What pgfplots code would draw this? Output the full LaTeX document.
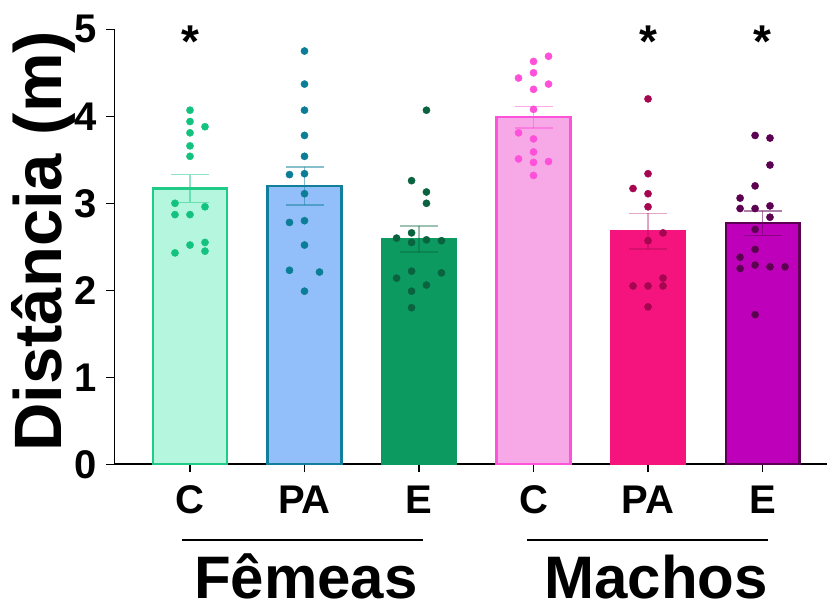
\documentclass[border=0pt]{standalone}
\usepackage{fontspec}
\setmainfont{Liberation Sans}
\usepackage{pgfplots}
\pgfplotsset{compat=1.18}
\definecolor{cfFill}{HTML}{B4F6DE}\definecolor{cfDraw}{HTML}{1FCB87}\definecolor{cfPt}{HTML}{13C27E}
\definecolor{pafFill}{HTML}{92BFF9}\definecolor{pafDraw}{HTML}{117F9B}\definecolor{pafPt}{HTML}{0B7D96}
\definecolor{efFill}{HTML}{0C9A61}\definecolor{efPt}{HTML}{09633F}
\definecolor{cmFill}{HTML}{F6A9E6}\definecolor{cmDraw}{HTML}{FF52DA}\definecolor{cmPt}{HTML}{FF50D9}
\definecolor{pamFill}{HTML}{F5147E}\definecolor{pamPt}{HTML}{A5064F}
\definecolor{emFill}{HTML}{BF00BA}\definecolor{emDraw}{HTML}{5B0052}\definecolor{emPt}{HTML}{5C0051}
\newcommand\tickfont{\fontsize{40}{40}\selectfont\bfseries}
\begin{document}
\begin{tikzpicture}
\useasboundingbox (-114.3pt,-139.7pt) rectangle (714.7pt,464.3pt);
\begin{axis}[
  at={(0pt,0pt)}, anchor=south west,
  scale only axis, width=712.7pt, height=435pt,
  xmin=-0.661, xmax=5.563, ymin=0, ymax=5,
  axis x line=bottom, axis y line=left,
  x axis line style={-, line width=2.2pt},
  y axis line style={-, line width=1.4pt},
  xtick={0,1,2,3,4,5}, xticklabels={C,PA,E,C,PA,E},
  ytick={0,1,2,3,4,5},
  tick align=outside, major tick length=8pt,
  tick style={black, line width=1.5pt},
  /pgf/number format/assume math mode=true,
  xticklabel style={font=\tickfont, anchor=base, inner sep=0pt, yshift=-40.7pt},
  yticklabel style={font=\tickfont, anchor=east, inner sep=0pt, xshift=-9.8pt},
  ylabel={Distância (m)},
  every axis y label/.style={at={(axis description cs:-0.0734,0.5126)}, rotate=90, anchor=base, inner sep=0pt, font=\fontsize{67}{67}\selectfont\bfseries},
  clip=false,
]
% bars with SEM
\addplot[ybar, bar width=0.645, bar shift=0pt, fill=cfFill, draw=cfDraw, line width=2.2pt,
  error bars/.cd, y dir=both, y explicit,
  error bar style={line width=1.5pt, draw=cfDraw, opacity=0.5},
  error mark options={rotate=90, mark size=19pt, line width=1.5pt, draw=cfDraw, opacity=0.5}]
  coordinates {(0,3.17) +- (0,0.16)};
\addplot[ybar, bar width=0.645, bar shift=0pt, fill=pafFill, draw=pafDraw, line width=2.2pt,
  error bars/.cd, y dir=both, y explicit,
  error bar style={line width=1.5pt, draw=pafDraw, opacity=0.5},
  error mark options={rotate=90, mark size=19pt, line width=1.5pt, draw=pafDraw, opacity=0.5}]
  coordinates {(1,3.20) +- (0,0.22)};
\addplot[ybar, bar width=0.645, bar shift=0pt, fill=efFill, draw=efFill, line width=2.2pt,
  error bars/.cd, y dir=both, y explicit,
  error bar style={line width=1.5pt, draw=efPt, opacity=0.4},
  error mark options={rotate=90, mark size=19pt, line width=1.5pt, draw=efPt, opacity=0.4}]
  coordinates {(2,2.59) +- (0,0.15)};
\addplot[ybar, bar width=0.645, bar shift=0pt, fill=cmFill, draw=cmDraw, line width=2.2pt,
  error bars/.cd, y dir=both, y explicit,
  error bar style={line width=1.5pt, draw=cmDraw, opacity=0.5},
  error mark options={rotate=90, mark size=19pt, line width=1.5pt, draw=cmDraw, opacity=0.5}]
  coordinates {(3,3.99) +- (0,0.125)};
\addplot[ybar, bar width=0.645, bar shift=0pt, fill=pamFill, draw=pamFill, line width=2.2pt,
  error bars/.cd, y dir=both, y explicit,
  error bar style={line width=1.5pt, draw=pamPt, opacity=0.35},
  error mark options={rotate=90, mark size=19pt, line width=1.5pt, draw=pamPt, opacity=0.35}]
  coordinates {(4,2.68) +- (0,0.205)};
\addplot[ybar, bar width=0.645, bar shift=0pt, fill=emFill, draw=emDraw, line width=2.2pt,
  error bars/.cd, y dir=both, y explicit,
  error bar style={line width=1.5pt, draw=emDraw, opacity=0.5},
  error mark options={rotate=90, mark size=19pt, line width=1.5pt, draw=emDraw, opacity=0.5}]
  coordinates {(5,2.77) +- (0,0.14)};
% individual points
\addplot[only marks, mark=*, mark size=3.6pt, color=cfPt] coordinates {
 (0,4.07)(0,3.94)(0.131,3.88)(0,3.81)(0,3.66)(0,3.54)(-0.131,3.00)(0.131,2.96)
 (-0.131,2.87)(0,2.87)(0,2.52)(0.131,2.55)(0.131,2.45)(-0.131,2.43)};
\addplot[only marks, mark=*, mark size=3.6pt, color=pafPt] coordinates {
 (1,4.75)(1,4.37)(1,4.07)(1,3.78)(1,3.54)(0.869,3.33)(1,3.34)(1,3.11)
 (0.869,2.78)(1,2.80)(1,2.52)(0.869,2.23)(1.131,2.21)(1,1.99)};
\addplot[only marks, mark=*, mark size=3.6pt, color=efPt] coordinates {
 (2.065,4.07)(1.935,3.26)(2.065,3.13)(2.065,3.00)(1.935,2.66)(1.804,2.60)(1.935,2.55)
 (2.065,2.58)(2.196,2.57)(1.935,2.22)(1.804,2.14)(2.196,2.20)(2.065,2.06)(1.935,1.99)(1.935,1.80)};
\addplot[only marks, mark=*, mark size=3.6pt, color=cmPt] coordinates {
 (3.131,4.69)(3,4.63)(3,4.50)(2.869,4.44)(3.131,4.37)(3,4.31)(3,4.08)
 (2.869,3.81)(3,3.74)(3,3.59)(2.869,3.51)(3,3.47)(3.131,3.48)(3,3.32)};
\addplot[only marks, mark=*, mark size=3.6pt, color=pamPt] coordinates {
 (4,4.20)(4,3.34)(3.869,3.17)(4,3.11)(4,2.96)(4.131,2.66)(4,2.57)
 (4.131,2.14)(3.869,2.05)(4,2.05)(4.131,2.05)(4,1.81)};
\addplot[only marks, mark=*, mark size=3.6pt, color=emPt] coordinates {
 (4.935,3.78)(5.065,3.75)(5.065,3.44)(4.935,3.20)(4.804,3.06)(4.804,2.94)(4.935,2.94)
 (5.065,2.97)(5.065,2.84)(4.935,2.70)(4.935,2.47)(4.804,2.38)(4.804,2.25)(4.935,2.29)
 (5.065,2.27)(5.196,2.27)(4.935,1.72)};
% significance marks
\node[anchor=base, inner sep=0pt, font=\fontsize{46}{46}\selectfont\bfseries] at (axis cs:0,4.68) {*};
\node[anchor=base, inner sep=0pt, font=\fontsize{46}{46}\selectfont\bfseries] at (axis cs:4,4.68) {*};
\node[anchor=base, inner sep=0pt, font=\fontsize{46}{46}\selectfont\bfseries] at (axis cs:5,4.68) {*};
\end{axis}
% group brackets
\draw[line width=2pt] (67.7pt,-75.7pt) -- (308.7pt,-75.7pt);
\draw[line width=2pt] (412.7pt,-75.7pt) -- (653.7pt,-75.7pt);
\node[anchor=base, inner sep=0pt, font=\fontsize{60}{60}\selectfont\bfseries] at (191.7pt,-134.2pt) {Fêmeas};
\node[anchor=base, inner sep=0pt, font=\fontsize{60}{60}\selectfont\bfseries] at (541.7pt,-134.2pt) {Machos};
\end{tikzpicture}
\end{document}
